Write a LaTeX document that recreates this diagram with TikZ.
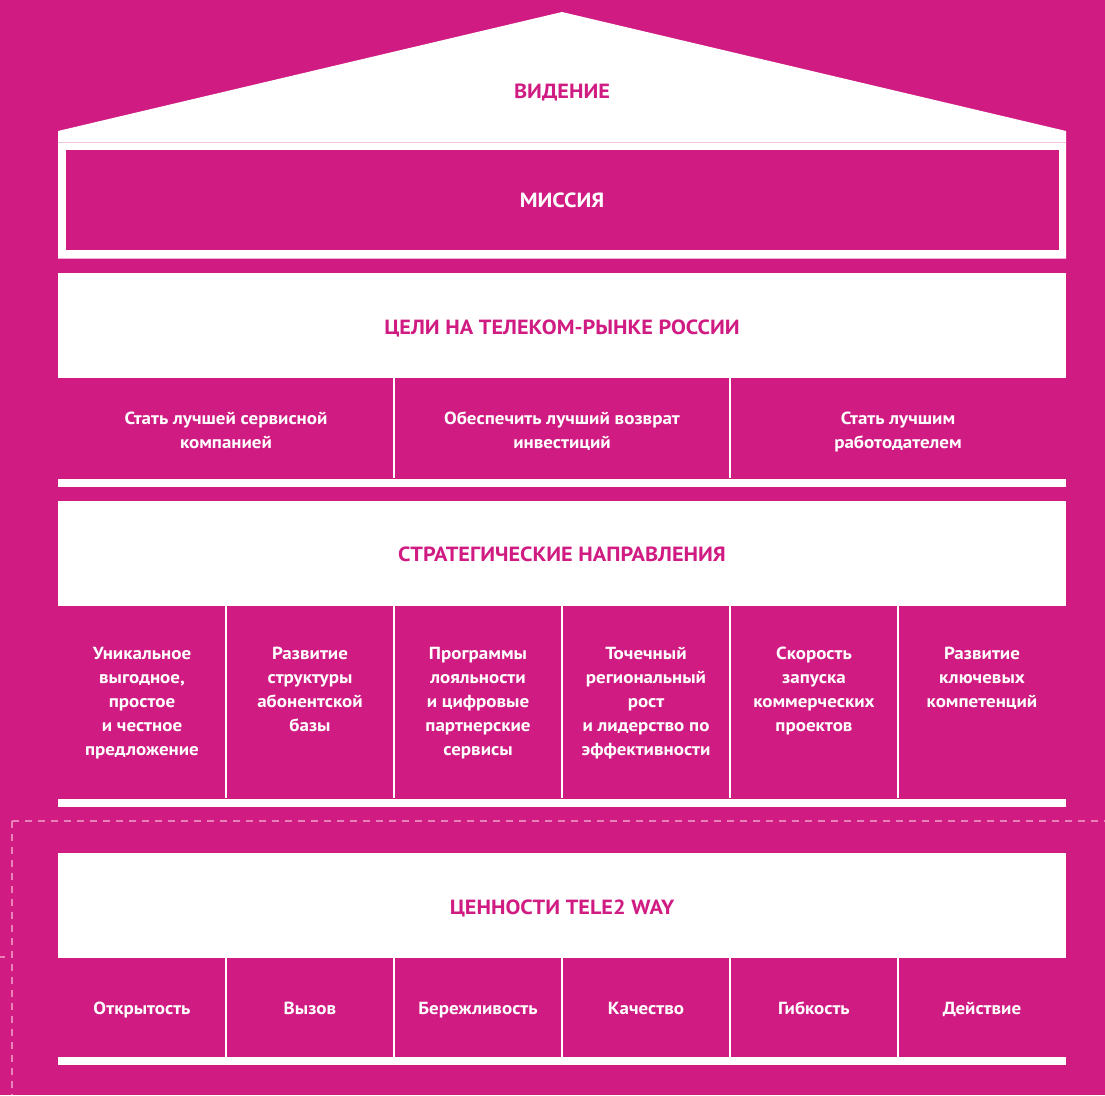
\documentclass[tikz,border=0pt]{standalone}
\usepackage{fontspec}
\setmainfont{PT Sans}[FakeStretch=1.085]
\definecolor{tpink}{RGB}{208,27,130}
\definecolor{dashpink}{RGB}{232,130,184}
\definecolor{rimpink}{RGB}{246,196,222}
\begin{document}
\begin{tikzpicture}[x=1pt,y=-1pt,
  headtext/.style={font=\bfseries\fontsize{20.5}{24}\selectfont, text=tpink, inner sep=0pt, anchor=base},
  celltext/.style={font=\bfseries\fontsize{17.5}{24}\selectfont, text=white, align=center, inner sep=0pt, anchor=base},
  whitebox/.style={fill=white, inner sep=0pt, minimum width=1008pt},
  sepline/.style={draw=white, line width=1.2pt},
  baseline bar/.style={fill=white, inner sep=0pt, minimum width=1008pt, minimum height=8pt},
  dashline/.style={draw=dashpink, line width=2.2pt, dash pattern=on 7pt off 6pt}]
% page
\fill[tpink] (0,0) rectangle (1105,1095);
\useasboundingbox (0,0) rectangle (1105,1095);

% roof and mission frame
\fill[white] (58,131) -- (562,12) -- (1066,131) -- (1066,258.5) -- (58,258.5) -- cycle;
\draw[rimpink, line width=0.8pt] (58,142.3) -- (1066,142.3);
\node[fill=tpink, inner sep=0pt, minimum width=993pt, minimum height=100pt] (missionbox) at (562.5,200) {};
\node[headtext] (vision) at (562,98) {ВИДЕНИЕ};
\node[headtext, text=white] (mission) at (562,207) {МИССИЯ};

% goals (base anchor = baseline of the last line)
\node[whitebox, minimum height=105pt] (goalsbox) at (562,325.5) {};
\node[headtext] (goals) at (562,334.5) {ЦЕЛИ НА ТЕЛЕКОМ-РЫНКЕ РОССИИ};
\draw[sepline] (394,378) -- (394,478);
\draw[sepline] (730,378) -- (730,478);
\node[celltext] (g1) at (226,448.5) {Стать лучшей сервисной\\компанией};
\node[celltext] (g2) at (562,448.5) {Обеспечить лучший возврат\\инвестиций};
\node[celltext] (g3) at (898,448.5) {Стать лучшим\\работодателем};
\node[baseline bar] (goalsbar) at (562,483) {};

% strategic directions
\node[whitebox, minimum height=105pt] (stratbox) at (562,553.5) {};
\node[headtext] (strat) at (562,561.5) {СТРАТЕГИЧЕСКИЕ НАПРАВЛЕНИЯ};
\foreach \x in {226,394,562,730,898} \draw[sepline] (\x,606) -- (\x,798);
\node[celltext] (s1) at (142,755) {Уникальное\\выгодное,\\простое\\и честное\\предложение};
\node[celltext] (s2) at (310,731) {Развитие\\структуры\\абонентской\\базы};
\node[celltext] (s3) at (478,755) {Программы\\лояльности\\и цифровые\\партнерские\\сервисы};
\node[celltext] (s4) at (646,755) {Точечный\\региональный\\рост\\и лидерство по\\эффективности};
\node[celltext] (s5) at (814,731) {Скорость\\запуска\\коммерческих\\проектов};
\node[celltext] (s6) at (982,707) {Развитие\\ключевых\\компетенций};
\node[baseline bar] (stratbar) at (562,802.5) {};

% dashed frame around the values
\coordinate (framecorner) at (12,821);
\coordinate (frameright) at (1105,821);
\coordinate (framebottom) at (12,1095);
\draw[dashline] (framecorner) -- (frameright);
\draw[dashline] (framecorner) -- (framebottom);
\draw[draw=dashpink, line width=2.2pt] (0,957) -- (5,957);

% values
\node[whitebox, minimum height=105pt] (valuesbox) at (562,905.5) {};
\node[headtext] (values) at (562,914) {ЦЕННОСТИ TELE2 WAY};
\foreach \x in {226,394,562,730,898} \draw[sepline] (\x,958) -- (\x,1057);
\node[celltext] (v1) at (142,1014) {Открытость};
\node[celltext] (v2) at (310,1014) {Вызов};
\node[celltext] (v3) at (478,1014) {Бережливость};
\node[celltext] (v4) at (646,1014) {Качество};
\node[celltext] (v5) at (814,1014) {Гибкость};
\node[celltext] (v6) at (982,1014) {Действие};
\node[baseline bar] (valuesbar) at (562,1061) {};
\end{tikzpicture}
\end{document}
